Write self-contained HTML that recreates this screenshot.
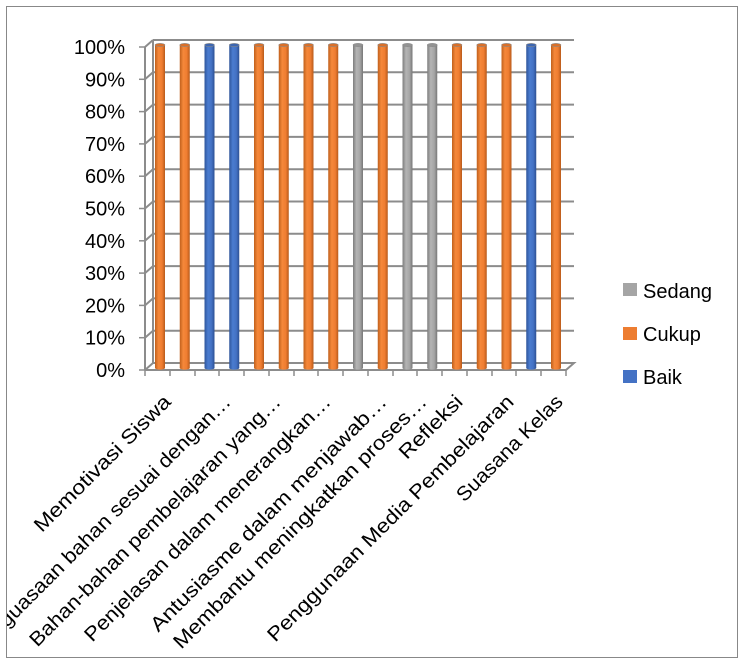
<!DOCTYPE html>
<html><head><meta charset="utf-8"><style>
html,body{margin:0;padding:0;background:#fff;}
svg{display:block;font-family:"Liberation Sans",sans-serif;}
</style></head><body>
<svg width="749" height="667" viewBox="0 0 749 667" xmlns="http://www.w3.org/2000/svg">
<defs>
<linearGradient id="o" x1="0" x2="1"><stop offset="0" stop-color="#c0601c"/><stop offset="0.35" stop-color="#f5883a"/><stop offset="0.7" stop-color="#ef7d31"/><stop offset="1" stop-color="#b85a1a"/></linearGradient>
<linearGradient id="b" x1="0" x2="1"><stop offset="0" stop-color="#2f559a"/><stop offset="0.35" stop-color="#4a7cd0"/><stop offset="0.7" stop-color="#4472c4"/><stop offset="1" stop-color="#2c5093"/></linearGradient>
<linearGradient id="g" x1="0" x2="1"><stop offset="0" stop-color="#7d7d7d"/><stop offset="0.35" stop-color="#b4b4b4"/><stop offset="0.7" stop-color="#a5a5a5"/><stop offset="1" stop-color="#777"/></linearGradient>
<clipPath id="c"><rect x="7" y="7" width="730" height="650"/></clipPath>
<g id="bo"><rect x="-5" y="45" width="10" height="323" fill="url(#o)"/><ellipse cx="0" cy="368" rx="5" ry="1.6" fill="url(#o)"/><ellipse cx="0" cy="45" rx="5" ry="1.6" fill="#d9702a" stroke="#888" stroke-width="0.6"/></g>
<g id="bb"><rect x="-5" y="45" width="10" height="323" fill="url(#b)"/><ellipse cx="0" cy="368" rx="5" ry="1.6" fill="url(#b)"/><ellipse cx="0" cy="45" rx="5" ry="1.6" fill="#3d66b0" stroke="#888" stroke-width="0.6"/></g>
<g id="bg"><rect x="-5" y="45" width="10" height="323" fill="url(#g)"/><ellipse cx="0" cy="368" rx="5" ry="1.6" fill="url(#g)"/><ellipse cx="0" cy="45" rx="5" ry="1.6" fill="#939393" stroke="#888" stroke-width="0.6"/></g>
</defs>
<rect x="6.5" y="6.5" width="731" height="651" fill="#fff" stroke="#888" stroke-width="1"/>
<g stroke="#8c8c8c" stroke-width="2" fill="none">
<line x1="153" y1="40" x2="153" y2="363"/>
<line x1="145" y1="47" x2="145" y2="370"/>
<polyline points="145,370 153,363 574,363 566,370 145,370"/>
<line x1="145" y1="47" x2="153" y2="40"/>
<line x1="153" y1="40" x2="574" y2="40"/>
<line x1="153" y1="72.3" x2="574" y2="72.3"/><line x1="145" y1="79.3" x2="153" y2="72.3"/>
<line x1="153" y1="104.6" x2="574" y2="104.6"/><line x1="145" y1="111.6" x2="153" y2="104.6"/>
<line x1="153" y1="136.9" x2="574" y2="136.9"/><line x1="145" y1="143.9" x2="153" y2="136.9"/>
<line x1="153" y1="169.2" x2="574" y2="169.2"/><line x1="145" y1="176.2" x2="153" y2="169.2"/>
<line x1="153" y1="201.5" x2="574" y2="201.5"/><line x1="145" y1="208.5" x2="153" y2="201.5"/>
<line x1="153" y1="233.8" x2="574" y2="233.8"/><line x1="145" y1="240.8" x2="153" y2="233.8"/>
<line x1="153" y1="266.1" x2="574" y2="266.1"/><line x1="145" y1="273.1" x2="153" y2="266.1"/>
<line x1="153" y1="298.4" x2="574" y2="298.4"/><line x1="145" y1="305.4" x2="153" y2="298.4"/>
<line x1="153" y1="330.7" x2="574" y2="330.7"/><line x1="145" y1="337.7" x2="153" y2="330.7"/>
</g>
<g stroke="#8c8c8c" stroke-width="1.5">
<line x1="139" y1="47" x2="145" y2="47"/><line x1="139" y1="79.3" x2="145" y2="79.3"/><line x1="139" y1="111.6" x2="145" y2="111.6"/><line x1="139" y1="143.9" x2="145" y2="143.9"/><line x1="139" y1="176.2" x2="145" y2="176.2"/><line x1="139" y1="208.5" x2="145" y2="208.5"/><line x1="139" y1="240.8" x2="145" y2="240.8"/><line x1="139" y1="273.1" x2="145" y2="273.1"/><line x1="139" y1="305.4" x2="145" y2="305.4"/><line x1="139" y1="337.7" x2="145" y2="337.7"/><line x1="139" y1="370" x2="145" y2="370"/>
<line x1="145" y1="370" x2="145" y2="376"/><line x1="170" y1="370" x2="170" y2="376"/><line x1="195" y1="370" x2="195" y2="376"/><line x1="219" y1="370" x2="219" y2="376"/><line x1="244" y1="370" x2="244" y2="376"/><line x1="269" y1="370" x2="269" y2="376"/><line x1="294" y1="370" x2="294" y2="376"/><line x1="318" y1="370" x2="318" y2="376"/><line x1="343" y1="370" x2="343" y2="376"/><line x1="368" y1="370" x2="368" y2="376"/><line x1="393" y1="370" x2="393" y2="376"/><line x1="417" y1="370" x2="417" y2="376"/><line x1="442" y1="370" x2="442" y2="376"/><line x1="467" y1="370" x2="467" y2="376"/><line x1="492" y1="370" x2="492" y2="376"/><line x1="516" y1="370" x2="516" y2="376"/><line x1="541" y1="370" x2="541" y2="376"/><line x1="566" y1="370" x2="566" y2="376"/>
</g>
<use href="#bo" x="160"/><use href="#bo" x="184.75"/><use href="#bb" x="209.5"/><use href="#bb" x="234.25"/><use href="#bo" x="259"/><use href="#bo" x="283.75"/><use href="#bo" x="308.5"/><use href="#bo" x="333.25"/><use href="#bg" x="358"/><use href="#bo" x="382.75"/><use href="#bg" x="407.5"/><use href="#bg" x="432.25"/><use href="#bo" x="457"/><use href="#bo" x="481.75"/><use href="#bo" x="506.5"/><use href="#bb" x="531.25"/><use href="#bo" x="556"/>
<g font-size="20" fill="#000" text-anchor="end">
<text x="125" y="54">100%</text><text x="125" y="86.3">90%</text><text x="125" y="118.6">80%</text><text x="125" y="150.9">70%</text><text x="125" y="183.2">60%</text><text x="125" y="215.5">50%</text><text x="125" y="247.8">40%</text><text x="125" y="280.1">30%</text><text x="125" y="312.4">20%</text><text x="125" y="344.7">10%</text><text x="125" y="377">0%</text>
</g>
<g font-size="20" fill="#000" text-anchor="end" clip-path="url(#c)">
<text transform="translate(172,403) rotate(-45)" textLength="184" lengthAdjust="spacingAndGlyphs">Memotivasi Siswa</text>
<text transform="translate(232,403) rotate(-45)" textLength="357" lengthAdjust="spacingAndGlyphs">Penguasaan bahan sesuai dengan…</text>
<text transform="translate(282,403) rotate(-45)" textLength="346" lengthAdjust="spacingAndGlyphs">Bahan-bahan pembelajaran yang…</text>
<text transform="translate(332,403) rotate(-45)" textLength="339" lengthAdjust="spacingAndGlyphs">Penjelasan dalam menerangkan…</text>
<text transform="translate(388,403) rotate(-45)" textLength="325" lengthAdjust="spacingAndGlyphs">Antusiasme dalam menjawab…</text>
<text transform="translate(428,403) rotate(-45)" textLength="349" lengthAdjust="spacingAndGlyphs">Membantu meningkatkan proses…</text>
<text transform="translate(464,403) rotate(-45)" textLength="81" lengthAdjust="spacingAndGlyphs">Refleksi</text>
<text transform="translate(515,403) rotate(-45)" textLength="339" lengthAdjust="spacingAndGlyphs">Penggunaan Media Pembelajaran</text>
<text transform="translate(564,403) rotate(-45)" textLength="141" lengthAdjust="spacingAndGlyphs">Suasana Kelas</text>
</g>
<rect x="623" y="283" width="14" height="13" fill="#a5a5a5"/>
<rect x="623" y="327" width="14" height="13" fill="#ed7d31"/>
<rect x="623" y="370" width="14" height="13" fill="#4472c4"/>
<g font-size="20" fill="#000">
<text x="643" y="298">Sedang</text><text x="643" y="341">Cukup</text><text x="643" y="384">Baik</text>
</g>
</svg>
</body></html>
